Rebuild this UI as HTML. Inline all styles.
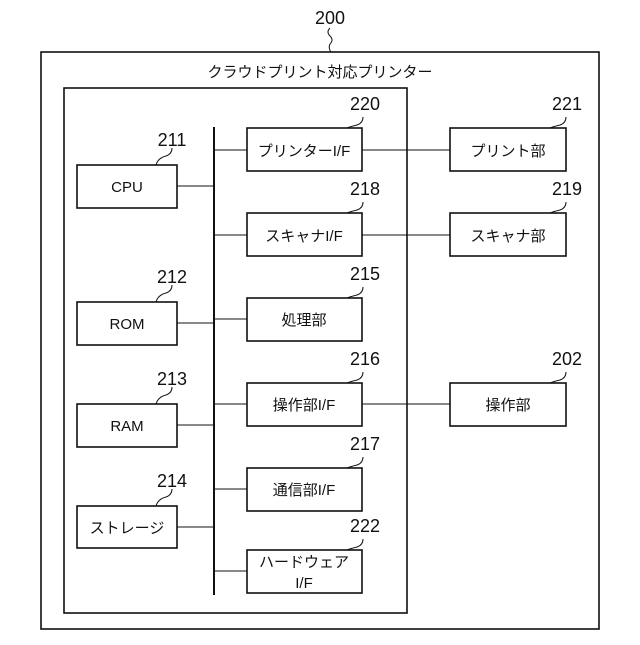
<!DOCTYPE html><html><head><meta charset="utf-8"><style>body{margin:0;background:#fff}</style></head><body>
<svg width="640" height="640" xmlns="http://www.w3.org/2000/svg" style="font-family:'Liberation Sans','Noto Sans CJK JP',sans-serif">
<g fill="none" stroke="#111" stroke-width="1.6">
<rect x="41" y="52" width="558" height="577"/>
<rect x="64" y="88" width="343" height="525"/>
<line x1="214" y1="127" x2="214" y2="595" stroke-width="2"/>
<rect x="77" y="165" width="100" height="43"/><rect x="77" y="302" width="100" height="43"/>
<rect x="77" y="404" width="100" height="43"/><rect x="77" y="506" width="100" height="42"/>
<rect x="247" y="128" width="115" height="43"/><rect x="247" y="213" width="115" height="43"/>
<rect x="247" y="298" width="115" height="43"/><rect x="247" y="383" width="115" height="43"/>
<rect x="247" y="468" width="115" height="43"/><rect x="247" y="550" width="115" height="43"/>
<rect x="450" y="128" width="116" height="43"/><rect x="450" y="213" width="116" height="43"/>
<rect x="450" y="383" width="116" height="43"/>
<g stroke-width="1">
<line x1="177" y1="186" x2="214" y2="186"/><line x1="177" y1="323" x2="214" y2="323"/>
<line x1="177" y1="425" x2="214" y2="425"/><line x1="177" y1="527" x2="214" y2="527"/>
<line x1="214" y1="150" x2="247" y2="150"/><line x1="214" y1="235" x2="247" y2="235"/>
<line x1="214" y1="319" x2="247" y2="319"/><line x1="214" y1="404" x2="247" y2="404"/>
<line x1="214" y1="489" x2="247" y2="489"/><line x1="214" y1="571" x2="247" y2="571"/>
<line x1="362" y1="150" x2="450" y2="150"/><line x1="362" y1="235" x2="450" y2="235"/>
<line x1="362" y1="404" x2="450" y2="404"/>
<path d="M330 28 q-4 4 0 8 q4 4 0 8 q-2 4 1 8"/>
<path d="M172 148 q0 6 -6 8 q-8 2 -10 9"/>
<path d="M363 117 q0 6 -6 8 q-8 2 -10 3"/><path d="M363 202 q0 6 -6 8 q-8 2 -10 3"/>
<path d="M363 287 q0 6 -6 8 q-8 2 -10 3"/><path d="M363 372 q0 6 -6 8 q-8 2 -10 3"/>
<path d="M363 457 q0 6 -6 8 q-8 2 -10 3"/><path d="M363 539 q0 6 -6 8 q-8 2 -10 3"/>
<path d="M172 285 q0 6 -6 8 q-8 2 -10 9"/><path d="M172 387 q0 6 -6 8 q-8 2 -10 9"/>
<path d="M172 489 q0 6 -6 8 q-8 2 -10 9"/>
<path d="M566 117 q0 6 -6 8 q-8 2 -10 3"/><path d="M566 202 q0 6 -6 8 q-8 2 -10 3"/>
<path d="M566 372 q0 6 -6 8 q-8 2 -10 3"/>
</g></g>
<g fill="#111" font-size="18" text-anchor="middle">
<text x="330" y="24">200</text><text x="172" y="146">211</text><text x="172" y="283">212</text>
<text x="172" y="385">213</text><text x="172" y="487">214</text><text x="365" y="110">220</text>
<text x="365" y="195">218</text><text x="365" y="280">215</text><text x="365" y="365">216</text>
<text x="365" y="450">217</text><text x="365" y="532">222</text><text x="567" y="110">221</text>
<text x="567" y="195">219</text><text x="567" y="365">202</text>
</g>
<g fill="#111" font-size="15" text-anchor="middle">
<text x="320" y="77">クラウドプリント対応プリンター</text>
<text x="127" y="192">CPU</text><text x="127" y="329">ROM</text><text x="127" y="431">RAM</text>
<text x="127" y="533">ストレージ</text>
<text x="304" y="156">プリンターI/F</text><text x="304" y="241">スキャナI/F</text>
<text x="304" y="325">処理部</text><text x="304" y="410">操作部I/F</text>
<text x="304" y="495">通信部I/F</text><text x="304" y="567">ハードウェア</text><text x="304" y="588">I/F</text>
<text x="508" y="156">プリント部</text><text x="508" y="241">スキャナ部</text><text x="508" y="410">操作部</text>
</g>
</svg></body></html>
